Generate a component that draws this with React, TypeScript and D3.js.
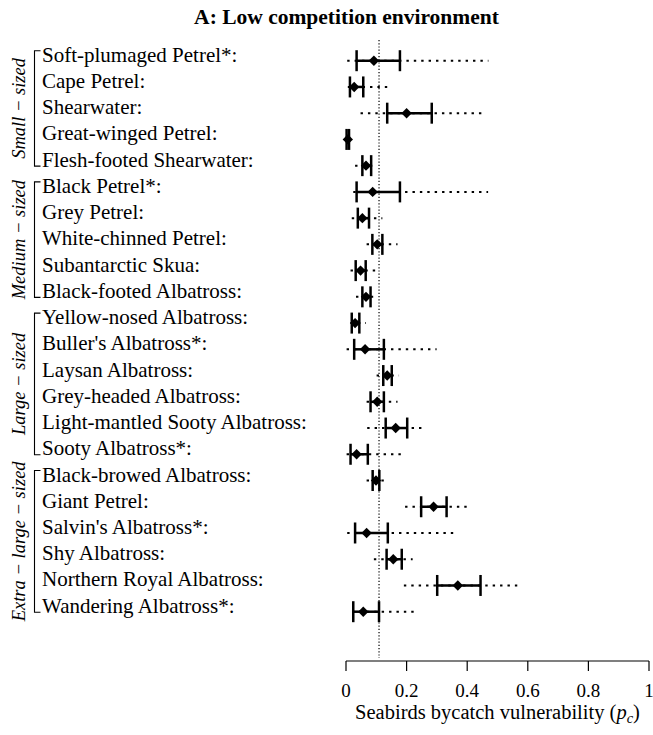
import React from "react";
import * as d3 from "d3";

const species = [
  "Soft-plumaged Petrel*:",
  "Cape Petrel:",
  "Shearwater:",
  "Great-winged Petrel:",
  "Flesh-footed Shearwater:",
  "Black Petrel*:",
  "Grey Petrel:",
  "White-chinned Petrel:",
  "Subantarctic Skua:",
  "Black-footed Albatross:",
  "Yellow-nosed Albatross:",
  "Buller's Albatross*:",
  "Laysan Albatross:",
  "Grey-headed Albatross:",
  "Light-mantled Sooty Albatross:",
  "Sooty Albatross*:",
  "Black-browed Albatross:",
  "Giant Petrel:",
  "Salvin's Albatross*:",
  "Shy Albatross:",
  "Northern Royal Albatross:",
  "Wandering Albatross*:",
];

const estimate = [0.092, 0.027, 0.2, 0.006, 0.066, 0.088, 0.054, 0.103, 0.048, 0.066, 0.03, 0.063, 0.136, 0.103, 0.164, 0.035, 0.099, 0.289, 0.068, 0.156, 0.369, 0.057];
const innerLow = [0.035, 0.013, 0.136, 0.002, 0.054, 0.035, 0.039, 0.087, 0.032, 0.054, 0.019, 0.027, 0.123, 0.081, 0.131, 0.015, 0.088, 0.248, 0.03, 0.134, 0.301, 0.024];
const innerHigh = [0.178, 0.057, 0.283, 0.01, 0.083, 0.178, 0.076, 0.12, 0.065, 0.081, 0.044, 0.125, 0.151, 0.125, 0.202, 0.072, 0.11, 0.332, 0.138, 0.184, 0.444, 0.109];
const outerLow = [0.004, 0.006, 0.048, 0.0, 0.03, 0.024, 0.019, 0.068, 0.015, 0.033, 0.015, 0.002, 0.101, 0.068, 0.07, 0.002, 0.068, 0.195, 0.004, 0.092, 0.191, 0.02];
const outerHigh = [0.47, 0.145, 0.46, 0.012, 0.098, 0.469, 0.12, 0.17, 0.112, 0.101, 0.066, 0.299, 0.175, 0.17, 0.261, 0.187, 0.131, 0.413, 0.357, 0.22, 0.578, 0.239];

const groupNames = ["Small \u2212 sized", "Medium \u2212 sized", "Large \u2212 sized", "Extra \u2212 large \u2212 sized"];
const groupStart = [0, 5, 10, 16];
const groupEnd = [4, 9, 15, 21];

const xTicks = [0, 0.2, 0.4, 0.6, 0.8, 1];
const tickLabels = ["0", "0.2", "0.4", "0.6", "0.8", "1"];
const referenceValue = 0.109;

const FONT = '"Liberation Serif", "Times New Roman", serif';

export default function App() {
  const W = 653;
  const H = 735;
  const x = d3.scaleLinear().domain([0, 1]).range([346, 649]);
  const y = d3.scalePoint<string>().domain(species).range([60.7, 611.7]).padding(0);
  const axisY = 661;
  const capH = 10.5;
  const d = 5.2;

  return (
    <svg width={W} height={H} style={{ position: "absolute", left: 0, top: 0, background: "#fff" }} fontFamily={FONT}>
      <text x={346.5} y={24} textAnchor="middle" fontWeight="bold" fontSize={21.5}>
        A: Low competition environment
      </text>

      {/* reference line */}
      <line x1={x(referenceValue)} x2={x(referenceValue)} y1={40} y2={658} stroke="#000" strokeWidth={1.2} strokeDasharray="1.2 2" />

      {species.map((s, i) => {
        const yy = y(s) as number;
        return (
          <g key={s}>
            <text x={42} y={yy + 1} fontSize={21}>{s}</text>
            <line x1={x(outerLow[i])} x2={x(outerHigh[i])} y1={yy} y2={yy} stroke="#000" strokeWidth={2} strokeDasharray="2.4 5" />
            <line x1={x(innerLow[i])} x2={x(innerHigh[i])} y1={yy} y2={yy} stroke="#000" strokeWidth={2.5} />
            <line x1={x(innerLow[i])} x2={x(innerLow[i])} y1={yy - capH} y2={yy + capH} stroke="#000" strokeWidth={2.5} />
            <line x1={x(innerHigh[i])} x2={x(innerHigh[i])} y1={yy - capH} y2={yy + capH} stroke="#000" strokeWidth={2.5} />
            <path
              d={`M${x(estimate[i])},${yy - d} L${x(estimate[i]) + d},${yy} L${x(estimate[i])},${yy + d} L${x(estimate[i]) - d},${yy} Z`}
              fill="#000"
            />
          </g>
        );
      })}

      {groupNames.map((g, k) => {
        const y0 = (y(species[groupStart[k]]) as number) - 10;
        const y1 = (y(species[groupEnd[k]]) as number) + 0.5;
        const cy = (y0 + y1) / 2;
        return (
          <g key={g}>
            <path d={`M40.5,${y0} H34.5 V${y1} H40.5`} fill="none" stroke="#000" strokeWidth={1.1} />
            <text transform={`translate(25,${cy}) rotate(-90)`} textAnchor="middle" fontStyle="italic" fontSize={18.5}>
              {g}
            </text>
          </g>
        );
      })}

      {/* x axis */}
      <line x1={x(0)} x2={x(1)} y1={axisY} y2={axisY} stroke="#000" strokeWidth={1.2} />
      {xTicks.map((t, i) => (
        <g key={t}>
          <line x1={x(t)} x2={x(t)} y1={axisY} y2={axisY + 10} stroke="#000" strokeWidth={1.2} />
          <text x={x(t)} y={696.5} textAnchor="middle" fontSize={19}>{tickLabels[i]}</text>
        </g>
      ))}
      <text x={497.5} y={719} textAnchor="middle" fontSize={20.5}>
        Seabirds bycatch vulnerability (<tspan fontStyle="italic">p</tspan>
        <tspan fontStyle="italic" fontSize={14.5} dy={4}>c</tspan>
        <tspan dy={-4}>)</tspan>
      </text>
    </svg>
  );
}
